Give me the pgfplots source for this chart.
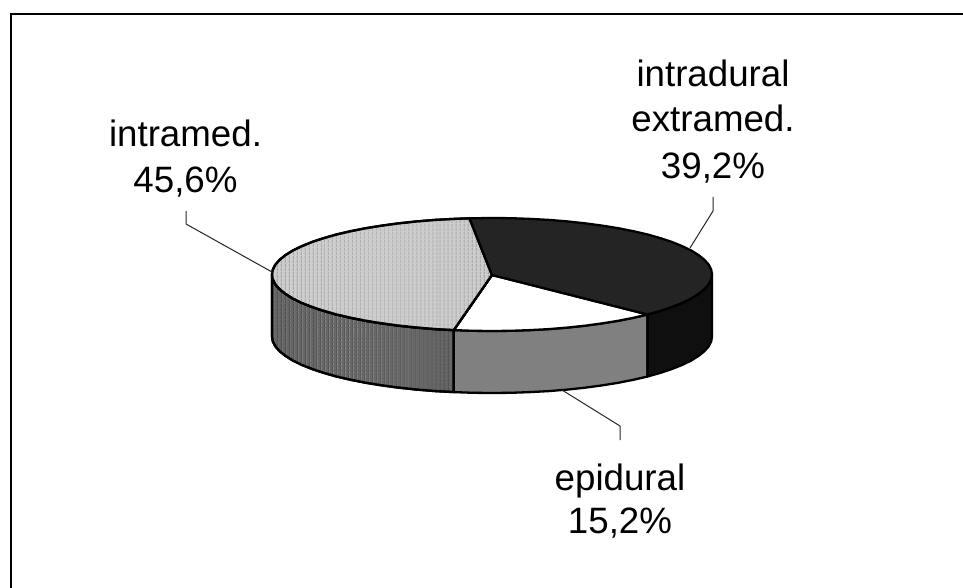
\documentclass[border=0pt]{standalone}
\usepackage{fontspec}
\setmainfont{Liberation Sans}
\usepackage{pgfplots}
\pgfplotsset{compat=1.18}
\usetikzlibrary{patterns.meta}
\definecolor{lighttop}{gray}{0.8}
\definecolor{lightstripe}{gray}{0.64}
\definecolor{leftwall}{gray}{0.4}
\definecolor{leftstripe}{gray}{0.3}
\definecolor{darktop}{gray}{0.14}
\definecolor{darkwall}{gray}{0.06}
\definecolor{midwall}{gray}{0.5}
\tikzset{
  edge/.style={draw=black, line width=2.3pt, line join=round},
  leader/.style={draw=black!85, line width=1pt},
  lbl/.style={anchor=base, inner sep=0pt, font=\fontsize{36.7}{45.7}\selectfont},
}
\begin{document}
\begin{tikzpicture}
  % coordinates are reference pixels, y running down
  \begin{axis}[
    at={(0,0)},
    width=963pt, height=588pt,
    scale only axis,
    xmin=0, xmax=963,
    ymin=0, ymax=588,
    y dir=reverse,
    hide axis,
  ]
  % page background
  \addplot[draw=none, fill=white] coordinates {(0,0) (963,0) (963,588) (0,588)} -- cycle;
  % frame, open to the right and the bottom
  \addplot[draw=black, line width=2pt] coordinates {(10.5,588) (10.5,14.5) (963,14.5)};

  % walls
  \addplot[edge, preaction={fill=leftwall},
    pattern={Lines[angle=90,distance=4pt,line width=1.5pt]}, pattern color=leftstripe] coordinates {
    (272,274.5)(272.8,279.4)(275.3,284.3)(279.5,289.1)(285.3,293.8)(292.6,298.4)(301.5,302.8)(311.8,306.9)(323.5,310.8)
    (336.4,314.5)(350.6,317.8)(365.8,320.8)(382,323.4)(399,325.7)(416.8,327.6)(435.1,329.1)(453.8,330.1)
    (453.8,392.1)(435.1,391.1)(416.8,389.6)(399,387.7)(382,385.4)(365.8,382.8)(350.6,379.8)(336.4,376.5)
    (323.5,372.8)(311.8,368.9)(301.5,364.8)(292.6,360.4)(285.3,355.8)(279.5,351.1)(275.3,346.3)(272.8,341.4)(272,336.5)
  } -- cycle;
  \addplot[edge, fill=midwall] coordinates {
    (453.8,330.1)(472.8,330.8)(492,331)(511.2,330.8)(530.2,330.1)(548.9,329.1)(567.2,327.6)(585,325.7)(602,323.4)
    (618.2,320.8)(633.4,317.8)(647.6,314.5)
    (647.6,376.5)(633.4,379.8)(618.2,382.8)(602,385.4)(585,387.7)(567.2,389.6)(548.9,391.1)(530.2,392.1)
    (511.2,392.8)(492,393)(472.8,392.8)(453.8,392.1)
  } -- cycle;
  \addplot[edge, fill=darkwall] coordinates {
    (647.6,314.5)(660.5,310.8)(672.2,306.9)(682.5,302.8)(691.4,298.4)(698.7,293.8)(704.5,289.1)(708.7,284.3)(711.2,279.4)(712,274.5)
    (712,336.5)(711.2,341.4)(708.7,346.3)(704.5,351.1)(698.7,355.8)(691.4,360.4)(682.5,364.8)(672.2,368.9)(660.5,372.8)(647.6,376.5)
  } -- cycle;

  % top face
  \addplot[edge, fill=white] coordinates {
    (492,275)(647.6,314.5)(633.4,317.8)(618.2,320.8)(602,323.4)(585,325.7)(567.2,327.6)(548.9,329.1)(530.2,330.1)
    (511.2,330.8)(492,331)(472.8,330.8)(453.8,330.1)
  } -- cycle;
  \addplot[edge, preaction={fill=lighttop},
    pattern={Lines[angle=90,distance=4pt,line width=1.5pt]}, pattern color=lightstripe] coordinates {
    (492,275)(453.8,330.1)(435.1,329.1)(416.8,327.6)(399,325.7)(382,323.4)(365.8,320.8)(350.6,317.8)(336.4,314.5)(323.5,310.8)
    (311.8,306.9)(301.5,302.8)(292.6,298.4)(285.3,293.8)(279.5,289.1)(275.3,284.3)(272.8,279.4)(272,274.5)(272.8,269.6)(275.3,264.7)
    (279.5,259.9)(285.3,255.2)(292.6,250.6)(301.5,246.3)(311.8,242.1)(323.5,238.2)(336.4,234.5)(350.6,231.2)(365.8,228.2)(382,225.6)
    (399,223.3)(416.8,221.4)(435.1,219.9)(453.8,218.9)(469.5,218.3)
  } -- cycle;
  \addplot[edge, fill=darktop] coordinates {
    (492,275)(469.5,218.3)(492,218)(511.2,218.2)(530.2,218.9)(548.9,219.9)(567.2,221.4)(585,223.3)(602,225.6)(618.2,228.2)
    (633.4,231.2)(647.6,234.5)(660.5,238.2)(672.2,242.1)(682.5,246.3)(691.4,250.6)(698.7,255.2)(704.5,259.9)(708.7,264.7)(711.2,269.6)
    (712,274.5)(711.2,279.4)(708.7,284.3)(704.5,289.1)(698.7,293.8)(691.4,298.4)(682.5,302.8)(672.2,306.9)(660.5,310.8)(647.6,314.5)
  } -- cycle;

  % leader lines
  \addplot[leader] coordinates {(186,211) (186,224) (272,272)};
  \addplot[leader] coordinates {(713,197) (713,211) (690,248)};
  \addplot[leader] coordinates {(562,390) (620,426) (620,440)};

  % labels
  \node[lbl] at (axis cs:185.5,146.7) {intramed.};
  \node[lbl] at (axis cs:185.5,192.3) {45,6\%};
  \node[lbl] at (axis cs:713,86.7) {intradural};
  \node[lbl] at (axis cs:713,131.7) {extramed.};
  \node[lbl] at (axis cs:713,178.3) {39,2\%};
  \node[lbl] at (axis cs:620,490) {epidural};
  \node[lbl] at (axis cs:620,533) {15,2\%};
  \end{axis}
\end{tikzpicture}
\end{document}
